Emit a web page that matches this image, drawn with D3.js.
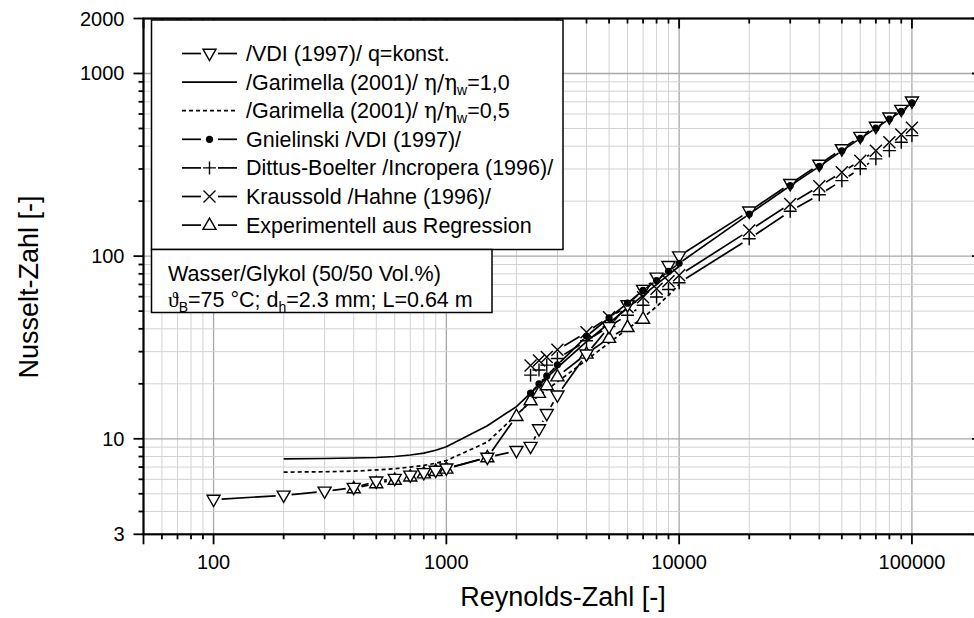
<!DOCTYPE html>
<html><head><meta charset="utf-8">
<script src="https://cdn.jsdelivr.net/npm/d3@7"></script>
<style>
html,body{margin:0;padding:0;background:#fff;}
svg{display:block;font-family:Arial,"Liberation Sans",sans-serif;}
</style></head>
<body><svg id="c" width="974" height="618"></svg>
<script>
// ---------- data ----------
const reVDI = [100,200,300,400,500,600,700,800,900,1000,1500,2000,2300,2500,2700,3000,4000,5000,6000,7000,8000,9000,10000,20000,30000,40000,50000,60000,70000,80000,90000,100000];
const nuVDI = [4.65,4.9,5.15,5.4,5.85,6.05,6.3,6.5,6.7,6.9,7.9,8.6,9.05,11.3,13.7,17.3,29,41,54,65.5,76.5,88.5,100,176,249,317,386,451,512,576,634,704];

const reGar = [200,300,400,500,600,700,800,900,1000,1500,2000,2300,3000,4000,5000,6000,7000,8000,9000,10000];
const nuGar10 = [7.77,7.8,7.85,7.9,8.0,8.15,8.35,8.65,9.05,11.8,15.0,17.8,24.5,34,43,52,61,70,79,88];
const nuGar05 = [6.57,6.6,6.65,6.75,6.85,7.0,7.15,7.35,7.6,9.6,13.5,15.9,20.5,27,33.5,40,46,53,61,70];

const reTurb = [2300,2500,2700,3000,4000,5000,6000,7000,8000,9000,10000,20000,30000,40000,50000,60000,70000,80000,90000,100000];
const nuGniel = [17.8,20,22.1,25.4,36.4,45.9,55.3,64.9,73.5,82.6,91.4,170,243,310,377,441,502,563,621,690];
const nuDittus = [22.3,23.8,25.3,27.5,34.4,41.2,47.5,53.8,59.8,65.7,71.5,124.5,176,217,259,301,341,378,420,457];
const nuKraus = [25.2,26.8,28.0,30.7,38.3,46.3,52.7,59.6,66.3,72.8,78.5,138,193,241,288,333,378,420,463,504];

const reExp = [400,500,600,700,800,900,1000,1500,2000,2300,2500,2700,3000,4000,5000,6000,7000];
const nuExp = [5.35,5.7,5.95,6.2,6.45,6.65,6.85,7.9,13.3,16.2,17.8,19.6,21.9,29.2,35.6,40.8,45.3];

const xTickLabels = [100,1000,10000,100000];
const yTickLabels = [3,10,100,1000,2000];
const legendLabels = ["/VDI (1997)/ q=konst.","/Garimella (2001)/ ","/Garimella (2001)/ ","Gnielinski /VDI (1997)/","Dittus-Boelter /Incropera (1996)/","Kraussold /Hahne (1996)/","Experimentell aus Regression"];

// ---------- layout ----------
const svg = d3.select("#c");
const L = 143.5, R = 982, T = 18.5, B = 534.3;
const x = d3.scaleLog().domain([50,200000]).range([L,R]);
const y = d3.scaleLog().domain([3,2000]).range([B,T]);

const xMinor = [], yMinor = [];
for (let d = 10; d <= 100000; d *= 10) for (let k = 1; k <= 9; k++) { const v = d*k; if (v > 50 && v < 200000) xMinor.push(v); }
for (let d = 1; d <= 1000; d *= 10) for (let k = 1; k <= 9; k++) { const v = d*k; if (v > 3 && v < 2000) yMinor.push(v); }
const isMajor = v => Math.abs(Math.log10(v) - Math.round(Math.log10(v))) < 1e-9;

const g = svg.append("g");
g.selectAll(".vx").data(xMinor).join("line")
  .attr("x1", d=>x(d)).attr("x2", d=>x(d)).attr("y1", T).attr("y2", B)
  .attr("stroke", d=> isMajor(d) ? "#a8a8a8" : "#d2d2d2").attr("stroke-width", d=>isMajor(d)?1.3:1);
g.selectAll(".hy").data(yMinor).join("line")
  .attr("y1", d=>y(d)).attr("y2", d=>y(d)).attr("x1", L).attr("x2", R)
  .attr("stroke", d=> isMajor(d) ? "#a8a8a8" : "#d2d2d2").attr("stroke-width", d=>isMajor(d)?1.3:1);

const sym = {
  down: "M-6.5,-4.3L6.5,-4.3L0,7Z",
  up: "M-6.5,4.3L6.5,4.3L0,-7Z",
  plus: "M-6.5,0H6.5M0,-6.5V6.5",
  cross: "M-6,-6L6,6M-6,6L6,-6"
};
function drawSeries(re, nu, opt) {
  const pts = re.map((r,i)=>[x(r), y(nu[i])]);
  const gap = opt.gap || 0;
  const lg = svg.append("g").attr("fill","none").attr("stroke","#000").attr("stroke-width",1.7);
  if (opt.dash) lg.attr("stroke-dasharray", opt.dash);
  if (gap === 0) {
    lg.append("path").attr("d", d3.line()(pts));
  } else {
    for (let i = 0; i < pts.length-1; i++) {
      const [x1,y1] = pts[i], [x2,y2] = pts[i+1];
      const len = Math.hypot(x2-x1, y2-y1);
      if (len <= 2*gap + 1) continue;
      const ux = (x2-x1)/len, uy = (y2-y1)/len;
      lg.append("line").attr("x1", x1+ux*gap).attr("y1", y1+uy*gap)
        .attr("x2", x2-ux*gap).attr("y2", y2-uy*gap);
    }
  }
  if (opt.marker) drawMarkers(pts, opt.marker);
}
function drawMarkers(pts, m) {
  const mg = svg.append("g");
  pts.forEach(p => {
    if (m === "dot") mg.append("circle").attr("cx",p[0]).attr("cy",p[1]).attr("r",3.6).attr("fill","#000");
    else mg.append("path").attr("d", sym[m]).attr("transform",`translate(${p[0]},${p[1]})`)
      .attr("fill", (m==="up"||m==="down") ? "#fff" : "none").attr("stroke","#000").attr("stroke-width",1.4);
  });
}

drawSeries(reGar, nuGar10, {});
drawSeries(reGar, nuGar05, {dash:"4,3"});
drawSeries(reTurb, nuDittus, {gap:8, marker:"plus"});
drawSeries(reTurb, nuKraus, {gap:8, marker:"cross"});
drawSeries(reExp, nuExp, {gap:8, marker:"up"});
drawSeries(reVDI, nuVDI, {gap:8, marker:"down"});
drawSeries(reTurb, nuGniel, {gap:4, marker:"dot"});

const ax = svg.append("g").attr("stroke","#000");
ax.append("rect").attr("x",L).attr("y",T).attr("width",R-L).attr("height",B-T).attr("fill","none").attr("stroke-width",2.2);
const xAll = xMinor.concat([50,200000]);
const yAll = yMinor.concat([3,2000]);
xAll.forEach(v => {
  const big = isMajor(v) || v===50 || v===200000; const len = big ? 10 : 5;
  ax.append("line").attr("x1",x(v)).attr("x2",x(v)).attr("y1",B).attr("y2",B+len).attr("stroke-width",1.8);
  ax.append("line").attr("x1",x(v)).attr("x2",x(v)).attr("y1",T).attr("y2",T+len).attr("stroke-width",1.8);
});
yAll.forEach(v => {
  const big = isMajor(v) || v===3 || v===2000; const len = big ? 10 : 5;
  ax.append("line").attr("y1",y(v)).attr("y2",y(v)).attr("x1",L).attr("x2",L-len).attr("stroke-width",1.8);
  ax.append("line").attr("y1",y(v)).attr("y2",y(v)).attr("x1",R).attr("x2",R-len).attr("stroke-width",1.8);
});
svg.append("g").selectAll("text").data(xTickLabels).join("text")
  .attr("x", d=>x(d)).attr("y", B+35).attr("text-anchor","middle").attr("font-size",20).text(d=>d);
svg.append("g").selectAll("text").data(yTickLabels).join("text")
  .attr("x", L-19).attr("y", d=>y(d)).attr("dy","0.35em").attr("text-anchor","end").attr("font-size",20).text(d=>d);
svg.append("text").attr("x",563).attr("y",606).attr("text-anchor","middle").attr("font-size",27).text("Reynolds-Zahl [-]");
svg.append("text").attr("transform","translate(38,287) rotate(-90)").attr("text-anchor","middle").attr("font-size",27).text("Nusselt-Zahl [-]");

const lgX = 151.5, lgY = 20, lgW = 411.5, lgH = 229.5;
svg.append("rect").attr("x",lgX).attr("y",lgY).attr("width",lgW).attr("height",lgH).attr("fill","#fff").attr("stroke","#000").attr("stroke-width",1.5);
const legendStyle = [
  {marker:"down"},{},{dash:"4,3"},{marker:"dot"},{marker:"plus"},{marker:"cross"},{marker:"up"}
];
legendStyle.forEach((s,i) => {
  const cy = 53.5 + i*28.6;
  const lg = svg.append("g").attr("stroke","#000").attr("stroke-width",1.7).attr("fill","none");
  if (s.dash) lg.attr("stroke-dasharray", s.dash);
  if (s.marker) {
    lg.append("line").attr("x1",182).attr("x2",201).attr("y1",cy).attr("y2",cy);
    lg.append("line").attr("x1",218).attr("x2",237).attr("y1",cy).attr("y2",cy);
    drawMarkers([[209.5, cy]], s.marker);
  } else {
    lg.append("line").attr("x1",182).attr("x2",237).attr("y1",cy).attr("y2",cy);
  }
  const t = svg.append("text").attr("x",246).attr("y",cy).attr("dy","0.35em").attr("font-size",21.5).text(legendLabels[i]);
  if (i===1 || i===2) {
    t.append("tspan").attr("font-family","'DejaVu Serif','Liberation Serif',serif").text("η/η");
    t.append("tspan").attr("font-size",14).attr("dy",5).text("w");
    t.append("tspan").attr("dy",-5).text(i===1 ? "=1,0" : "=0,5");
  }
});

svg.append("rect").attr("x",lgX).attr("y",lgY+lgH).attr("width",340.5).attr("height",63).attr("fill","#fff").attr("stroke","#000").attr("stroke-width",1.5);
svg.append("text").attr("x",168).attr("y",273).attr("dy","0.35em").attr("font-size",21.5).text("Wasser/Glykol (50/50 Vol.%)");
const t2 = svg.append("text").attr("x",168).attr("y",299).attr("dy","0.35em").attr("font-size",21.5);
t2.append("tspan").attr("font-family","'Liberation Serif',serif").text("ϑ");
t2.append("tspan").attr("font-size",14).attr("dy",5).text("B");
t2.append("tspan").attr("dy",-5).text("=75 °C; d");
t2.append("tspan").attr("font-size",14).attr("dy",5).text("h");
t2.append("tspan").attr("dy",-5).text("=2.3 mm; L=0.64 m");
</script></body></html>
